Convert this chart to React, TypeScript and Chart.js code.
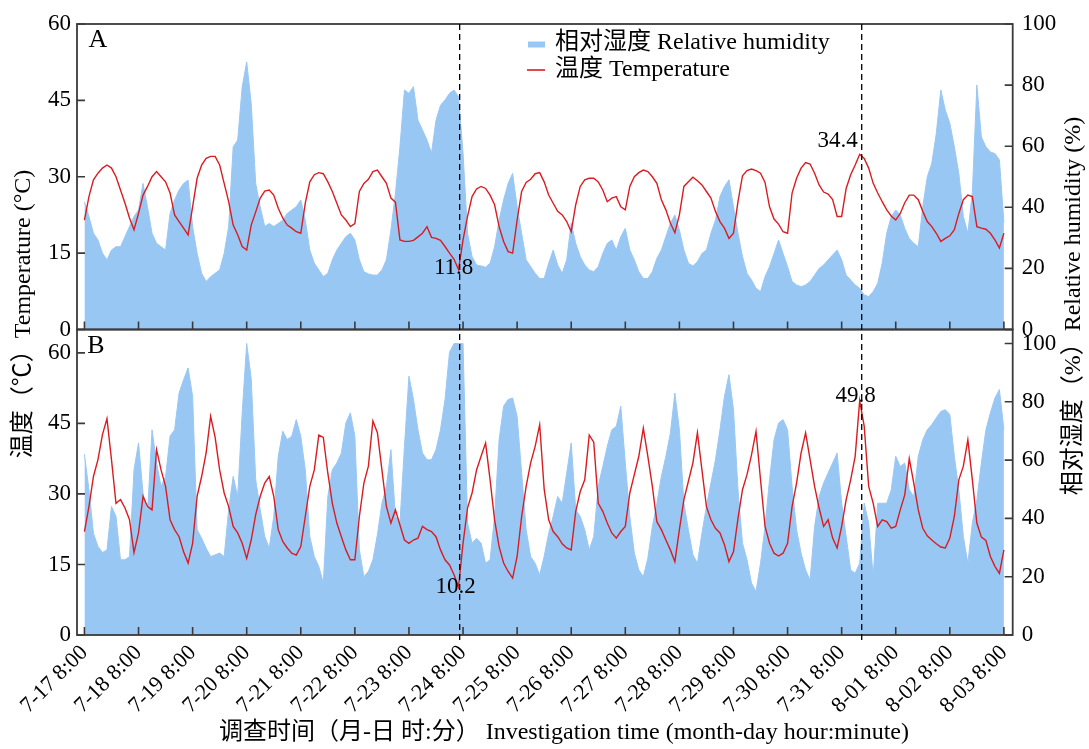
import React, { useEffect, useRef } from 'react';
import { Chart, registerables } from 'chart.js';

Chart.register(...registerables);

// ---------- data (hours counted from 7-17 8:00, one value every 2 h) ----------
const STEP_HOURS = 2;

const TICK_LABELS = [
  '7-17 8:00', '7-18 8:00', '7-19 8:00', '7-20 8:00', '7-21 8:00', '7-22 8:00',
  '7-23 8:00', '7-24 8:00', '7-25 8:00', '7-26 8:00', '7-27 8:00', '7-28 8:00',
  '7-29 8:00', '7-30 8:00', '7-31 8:00', '8-01 8:00', '8-02 8:00', '8-03 8:00',
];
const TICK_HOURS = TICK_LABELS.map((_, i) => i * 24);
const TEMP_TICKS = [0, 15, 30, 45, 60];
const RH_TICKS = [0, 20, 40, 60, 80, 100];

// hours of the marked extremes (dashed lines) and their values
const EXTREME_HOURS = [166.5, 344.9];
const EXTREMES_A = ['11.8', '34.4'];
const EXTREMES_B = ['10.2', '49.8'];

// Panel A
const TEMP_A = [
  21.5, 26.1, 29.4, 30.7, 31.7, 32.3, 31.7, 30, 27.4, 24.8, 21.9, 19.6,
  22.8, 26.4, 28.1, 30, 31, 30, 29, 26.8, 22.5, 21.2, 19.9, 18.6,
  24.1, 29.7, 32.3, 33.6, 34, 34, 32.3, 28.7, 25.1, 20.5, 18.6, 16.3,
  15.6, 20.5, 23.1, 25.8, 27.2, 27.4, 26.4, 23.8, 21.9, 20.5, 19.9, 19.2,
  18.9, 24.8, 29, 30.4, 30.8, 30.6, 29, 27.1, 24.8, 22.5, 21.5, 20.2,
  20.8, 27.1, 28.7, 29.5, 31, 31.3, 30, 28.7, 25.8, 25, 17.6, 17.3,
  17.3, 17.5, 18.2, 18.9, 20.2, 18.1, 17.9, 17.5, 16.3, 15, 13.8, 11.8,
  17.6, 22.2, 26.1, 27.6, 28.1, 27.7, 26.4, 24.5, 20.2, 17.3, 15.3, 15,
  21.5, 27.1, 28.9, 29.5, 30.6, 30.8, 29, 26.4, 24.8, 23.2, 22.5, 21.2,
  19.2, 24.5, 28.1, 29.4, 29.7, 29.7, 29, 27.4, 25.1, 25.8, 26.1, 24.1,
  23.5, 28.1, 30, 30.8, 31.3, 31, 30, 28.7, 25.5, 23.5, 20.9, 19,
  22.5, 28.1, 29, 29.9, 29.2, 28.4, 27.1, 25.8, 23.2, 21.2, 19.9, 17.9,
  18.9, 25.1, 30.2, 31.2, 31.5, 31.2, 30.7, 28.9, 24.1, 21.7, 20.7, 19.2,
  18.9, 26.8, 29.7, 31.7, 32.8, 32.5, 30.7, 28.4, 27, 26.6, 25.5, 22.2,
  22.2, 27.7, 30.4, 32.3, 34.4, 33.6, 31.7, 28.7, 26.8, 25.1, 23.5, 22.3,
  21.5, 22.8, 24.9, 26.4, 26.4, 25.5, 23.2, 21.2, 20.2, 18.9, 17.3, 17.9,
  18.4, 19.6, 22.8, 25.5, 26.4, 26.1, 20.2, 19.9, 19.7, 18.9, 17.6, 16,
  18.9,
];
const RH_A = [
  41.8, 37, 31.5, 29.3, 25, 22.8, 26, 27.1, 27.1, 30.4, 33.7, 37,
  39.1, 47.8, 40, 31.5, 28.2, 27.1, 26, 38, 42.4, 45.7, 47.8, 48.9,
  33.7, 24.9, 18.4, 15.7, 17.3, 18.4, 19.5, 24.9, 33.7, 59.8, 62, 79.4,
  87.6, 74, 47.8, 40.2, 33.7, 34.7, 33.7, 34.7, 35.8, 38, 39.1, 40.2,
  42.4, 35.8, 26, 21.7, 19.5, 17.3, 18.4, 22.8, 26, 28.2, 30.4, 31.5,
  29.3, 22.8, 18.9, 18.2, 17.8, 17.8, 19.5, 22.8, 32.6, 44.6, 59.8, 78.4,
  77.3, 79.5, 68.5, 65.3, 62, 57.7, 68.5, 73.4, 75.1, 77.3, 78.4, 76.2,
  57.7, 31.5, 23.9, 21.1, 20.8, 20.4, 21.7, 27.1, 35.8, 42.4, 47.8, 51.1,
  40.2, 31.5, 22.8, 20.6, 18.4, 16.7, 16.7, 21.7, 26, 21.1, 18.4, 22.8,
  34.8, 28.2, 23.9, 21.1, 19.5, 18.9, 20.6, 24.9, 28.2, 29.3, 26, 30.4,
  33.1, 26, 22.8, 18.9, 16.7, 16.7, 18.9, 23.3, 26, 30.4, 34.8, 37.5,
  32.6, 26, 21.7, 20.8, 22.2, 24.9, 26, 31.5, 35.8, 43.5, 46.8, 49,
  40.2, 31.5, 23.9, 18.4, 16.2, 13.5, 12.4, 17.3, 20.6, 24.9, 29.3, 24.9,
  20.6, 15.7, 14.6, 14, 14.6, 15.7, 17.8, 20, 21.1, 22.8, 24.4, 26,
  22.8, 17.8, 16.2, 14.6, 13.5, 11.3, 10.8, 12.4, 15.1, 21.7, 31.5, 37,
  39.1, 37.5, 33.1, 29.8, 28.2, 27.1, 40.2, 50, 54.4, 64.2, 78.4, 71.8,
  67.5, 59.8, 51.1, 37, 31.5, 45, 80, 63, 59.8, 58.1, 57.6, 55.5,
  35,
];

// Panel B
const TEMP_B = [
  22, 27.3, 33.7, 37.3, 42.6, 46, 37.3, 28, 28.8, 27, 24.5, 17.5,
  21.7, 29.5, 27.3, 26.6, 39.4, 35.1, 31.6, 24.5, 22.4, 20.9, 17.7, 15.3,
  19.5, 29.5, 33.7, 38.7, 46.5, 42, 35.1, 30.2, 27.3, 23.1, 21.7, 19.5,
  16.3, 20.2, 25.6, 29.5, 32.3, 33.7, 29.5, 22.4, 19.9, 18.5, 17.4, 17,
  18.8, 25.2, 31.6, 35.1, 42.5, 42, 34.4, 28, 23.8, 20.9, 18.1, 16,
  16, 25.2, 32.3, 35.9, 45.5, 43, 35.1, 27.3, 23.8, 26.6, 23.4, 20.2,
  19.5, 20.2, 20.6, 23.1, 22.4, 22, 20.9, 18.1, 16, 14.9, 12.8, 10.2,
  19.5, 27, 30.2, 35.1, 38, 40.8, 33, 24.5, 18.8, 15.3, 13.5, 12.1,
  16.7, 25.2, 31.6, 36.6, 40.1, 44.7, 31, 24.5, 22, 20.9, 19.4, 18.5,
  18.1, 26.3, 30.5, 33, 42.5, 41, 28, 26.3, 23.8, 21.7, 20.6, 22,
  23.1, 30.2, 34.1, 38, 44, 38, 31.6, 24.1, 22.4, 20.2, 18.1, 15.6,
  22.4, 28.8, 32.7, 36.6, 43, 35.1, 27.3, 24.5, 22.7, 21.7, 19.2, 15.6,
  17.7, 24.8, 30.9, 34.1, 38.3, 43.3, 33, 23.1, 19.5, 17.4, 16.8, 17.4,
  19.5, 27.3, 32.3, 38.7, 43, 37.3, 31.6, 27, 23.1, 24.5, 20.6, 18.5,
  23.1, 28.8, 33, 38, 49.8, 44.4, 31.6, 28, 23.1, 24.5, 24.1, 22.7,
  23.1, 26.6, 29.8, 37.5, 32.3, 26.6, 22.7, 21.1, 20.2, 19.4, 18.7, 18.5,
  20.6, 25.2, 33, 35.9, 41.5, 33, 23.8, 20.8, 20.1, 16.7, 14.6, 13.1,
  18.1,
];
const RH_B = [
  62, 49.8, 34.9, 30.4, 28.3, 29.2, 44.1, 40.7, 25.8, 25.8, 26.9, 56.7,
  65.9, 48.7, 41.8, 70.4, 59, 51, 54.4, 68.2, 70.4, 83, 87.6, 91.6,
  81.9, 36.1, 33.2, 29.8, 26.9, 27.5, 28.1, 26.9, 43, 54.4, 47.5, 76.2,
  100, 88, 53.3, 43, 33.8, 29.8, 40.7, 61.3, 69.9, 67, 68.2, 73.9,
  68.2, 56.7, 33.8, 26.9, 23.5, 17.8, 47.5, 56.7, 59, 62.4, 72.7, 76.2,
  68.2, 29.2, 20, 21.8, 25.8, 34.4, 45.2, 51, 63.6, 40.7, 38.4, 64.7,
  88.8, 80.8, 70.4, 62.4, 60.1, 60.1, 63.6, 70.4, 80.8, 97, 100, 100,
  100, 38.4, 31.5, 33.2, 31.5, 24.6, 25.8, 40.7, 67, 78.5, 80.8, 81.3,
  75, 55.6, 36.1, 26.9, 24.6, 20.6, 27, 34.9, 40.7, 47.5, 45.2, 55.6,
  65.9, 43, 40.7, 36.1, 29.2, 33.8, 51, 57.8, 64.7, 70.4, 71.6, 78.5,
  59, 40.7, 28.1, 22.3, 20, 26.3, 37.2, 45.2, 54.4, 61.3, 69.3, 83,
  70.4, 45.2, 36.1, 27.5, 24.6, 34.9, 44.1, 52.1, 60.1, 70.4, 81.9, 89.3,
  77.3, 49.8, 31.5, 25.8, 17.8, 14.9, 24.6, 37.2, 53.3, 67, 72.7, 73.9,
  70.4, 51, 36.1, 28.1, 22.3, 18.9, 37.2, 47.5, 52.1, 55.6, 59, 62.4,
  45.2, 33.8, 22.3, 21.2, 24.6, 45.2, 38.4, 20, 45.2, 45.2, 45.2, 49.8,
  61.3, 57.8, 59, 49.8, 47.5, 61.3, 67, 70.4, 72.2, 74.5, 76.7, 77.3,
  75.6, 61.3, 49.8, 33.8, 24.6, 38.4, 46.4, 59, 70.4, 76.2, 81.3, 84.2,
  70.4,
];

// ---------- styling ----------
const FONT = '"Liberation Serif", "Noto Sans CJK SC", "Times New Roman", serif';
const BLUE = 'rgb(153,199,244)';
const RED = 'rgb(218,28,32)';
const FRAME = '#3a3a3a';

const series = (values: number[]) => values.map((v, i) => ({ x: i * STEP_HOURS, y: v }));

const setTicks = (vals: number[]) => (s: any) => {
  s.ticks = vals.map((v) => ({ value: v }));
};

const yAxis = (position: 'left' | 'right', stack: string, max: number, ticks: number[], width: number) => ({
  type: 'linear',
  position,
  stack,
  stackWeight: 1,
  min: 0,
  max,
  afterBuildTicks: setTicks(ticks),
  afterFit: (s: any) => {
    s.width = width;
  },
  grid: { display: false, drawTicks: false },
  border: { display: false },
  ticks: {
    padding: position === 'left' ? 6 : 9,
    color: '#000',
    font: { family: FONT, size: 23 },
    callback: (v: any) => String(v),
  },
});

const chrome = {
  id: 'chrome',
  afterDraw(chart: any) {
    const { ctx, chartArea } = chart;
    const sx = chart.scales.x;
    const ta = chart.scales.yTA;
    const tb = chart.scales.yTB;
    const ra = chart.scales.yRA;
    const rb = chart.scales.yRB;
    const L = chartArea.left;
    const R = chartArea.right;
    const TL = 8;
    ctx.save();

    // inward tick marks
    ctx.strokeStyle = FRAME;
    ctx.lineWidth = 1.6;
    ctx.beginPath();
    for (const s of [ta, tb]) {
      for (const v of TEMP_TICKS) {
        const py = s.getPixelForValue(v);
        ctx.moveTo(L, py);
        ctx.lineTo(L + TL, py);
      }
    }
    for (const s of [ra, rb]) {
      for (const v of RH_TICKS) {
        const py = s.getPixelForValue(v);
        ctx.moveTo(R, py);
        ctx.lineTo(R - TL, py);
      }
    }
    for (const bottom of [ta.bottom, tb.bottom]) {
      for (const h of TICK_HOURS) {
        const px = sx.getPixelForValue(h);
        ctx.moveTo(px, bottom);
        ctx.lineTo(px, bottom - TL);
      }
    }
    ctx.stroke();

    // frames
    ctx.lineWidth = 1.8;
    ctx.strokeRect(L, ta.top, R - L, ta.bottom - ta.top);
    ctx.strokeRect(L, tb.top, R - L, tb.bottom - tb.top);

    // dashed lines through the extremes
    ctx.strokeStyle = '#000';
    ctx.lineWidth = 1.3;
    ctx.setLineDash([6, 4]);
    ctx.beginPath();
    for (const h of EXTREME_HOURS) {
      const px = sx.getPixelForValue(h);
      ctx.moveTo(px, ta.top);
      ctx.lineTo(px, tb.bottom + 6);
    }
    ctx.stroke();
    ctx.setLineDash([]);

    // extreme labels
    ctx.fillStyle = '#000';
    ctx.font = `23px ${FONT}`;
    ctx.textBaseline = 'middle';
    const p1 = sx.getPixelForValue(EXTREME_HOURS[0]);
    const p2 = sx.getPixelForValue(EXTREME_HOURS[1]);
    ctx.textAlign = 'center';
    ctx.fillText(EXTREMES_A[0], p1 - 6, ta.getPixelForValue(Number(EXTREMES_A[0])) - 1);
    ctx.fillText(EXTREMES_B[0], p1 - 4, tb.getPixelForValue(Number(EXTREMES_B[0])));
    ctx.fillText(EXTREMES_B[1], p2 - 6, tb.getPixelForValue(Number(EXTREMES_B[1])) - 5);
    ctx.textAlign = 'right';
    ctx.fillText(EXTREMES_A[1], p2 - 4, ta.getPixelForValue(Number(EXTREMES_A[1])) - 13);

    // panel letters
    ctx.font = `26px ${FONT}`;
    ctx.textAlign = 'center';
    ctx.fillText('A', L + 21, ta.top + 16);
    ctx.fillText('B', L + 19, tb.top + 17);

    // legend
    ctx.font = `24px ${FONT}`;
    ctx.fillStyle = BLUE;
    ctx.fillRect(528, 41.5, 17, 6);
    ctx.strokeStyle = RED;
    ctx.lineWidth = 1.6;
    ctx.beginPath();
    ctx.moveTo(527, 70);
    ctx.lineTo(545, 70);
    ctx.stroke();
    ctx.fillStyle = '#000';
    ctx.textAlign = 'left';
    ctx.fillText('相对湿度 Relative humidity', 555, 43);
    ctx.fillText('温度 Temperature', 555, 70);

    // axis titles
    ctx.textAlign = 'center';
    ctx.fillText('调查时间（月-日 时:分） Investigation time (month-day hour:minute)', 564, 733);
    ctx.save();
    ctx.translate(24, 314);
    ctx.rotate(-Math.PI / 2);
    ctx.fillText('温度（℃）Temperature (°C)', 0, 0);
    ctx.restore();
    ctx.save();
    ctx.translate(1074, 306);
    ctx.rotate(-Math.PI / 2);
    ctx.fillText('相对湿度（%）Relative humidity (%)', 0, 0);
    ctx.restore();

    ctx.restore();
  },
};

export default function App() {
  const ref = useRef<HTMLCanvasElement>(null);

  useEffect(() => {
    const canvas = ref.current;
    if (!canvas) return;
    const chart = new Chart(canvas, {
      type: 'line',
      data: {
        datasets: [
          {
            label: '相对湿度 A',
            data: series(RH_A),
            xAxisID: 'x',
            yAxisID: 'yRA',
            borderColor: BLUE,
            borderWidth: 1,
            backgroundColor: BLUE,
            fill: 'origin',
            pointRadius: 0,
            order: 2,
          },
          {
            label: '温度 A',
            data: series(TEMP_A),
            xAxisID: 'x',
            yAxisID: 'yTA',
            borderColor: RED,
            borderWidth: 1.4,
            fill: false,
            pointRadius: 0,
            order: 1,
          },
          {
            label: '相对湿度 B',
            data: series(RH_B),
            xAxisID: 'x',
            yAxisID: 'yRB',
            borderColor: BLUE,
            borderWidth: 1,
            backgroundColor: BLUE,
            fill: 'origin',
            pointRadius: 0,
            order: 2,
          },
          {
            label: '温度 B',
            data: series(TEMP_B),
            xAxisID: 'x',
            yAxisID: 'yTB',
            borderColor: RED,
            borderWidth: 1.4,
            fill: false,
            pointRadius: 0,
            order: 1,
          },
        ],
      } as any,
      options: {
        animation: false,
        responsive: false,
        maintainAspectRatio: false,
        layout: { padding: { top: 24, left: 0, right: 0, bottom: 0 } },
        plugins: { legend: { display: false }, tooltip: { enabled: false } },
        elements: { line: { tension: 0 }, point: { radius: 0 } },
        scales: {
          x: {
            type: 'linear',
            position: 'bottom',
            min: -3.3,
            max: 411.9,
            afterBuildTicks: setTicks(TICK_HOURS),
            afterFit: (s: any) => {
              s.height = 114;
            },
            grid: { display: false, drawTicks: false },
            border: { display: false },
            ticks: {
              autoSkip: false,
              minRotation: 45,
              maxRotation: 45,
              padding: 5,
              color: '#000',
              font: { family: FONT, size: 22 },
              callback: (_v: any, i: number) => TICK_LABELS[i],
            },
          },
          yTB: yAxis('left', 'L', 64.96, TEMP_TICKS, 77),
          yTA: yAxis('left', 'L', 60, TEMP_TICKS, 77),
          yRA: yAxis('right', 'R', 100, RH_TICKS, 76.3),
          yRB: yAxis('right', 'R', 104.8, RH_TICKS, 76.3),
        } as any,
      },
      plugins: [chrome],
    });
    return () => chart.destroy();
  }, []);

  return (
    <div style={{ position: 'absolute', left: 0, top: 0, width: 1089, height: 749, background: '#fff' }}>
      <canvas ref={ref} width={1089} height={749} style={{ display: 'block', width: 1089, height: 749 }} />
    </div>
  );
}
